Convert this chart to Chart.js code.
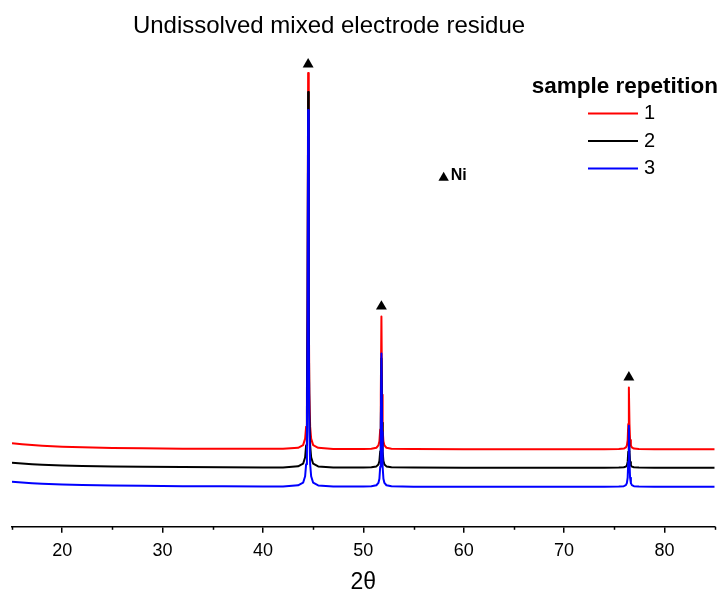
<!DOCTYPE html>
<html><head><meta charset="utf-8">
<script src="https://cdn.jsdelivr.net/npm/chart.js@4.4.0/dist/chart.umd.min.js"></script>
<style>html,body{margin:0;padding:0;background:#fff}canvas{display:block}</style>
</head><body>
<canvas id="c" width="721" height="597"></canvas>
<script>
// 2-theta positions (degrees)
const twoTheta = [
  15,16,17,18,20,22,25,28,32,36,40,42,
  43.5,44.0,44.2,44.3,44.38,44.44,44.5,44.56,44.62,44.7,44.8,45.0,45.5,
  47,50,
  50.8,51.3,51.5,51.6,51.68,51.74,51.8,51.86,51.92,52.0,52.1,52.3,52.8,
  55,60,65,70,74,
  75.45,75.95,76.15,76.25,76.33,76.39,76.45,76.51,76.57,76.65,76.75,76.95,77.45,
  79,82,85
];
// sample repetition 1 (red, offset intensity)
const rep1 = [
  83.5,82.5,81.7,81,80,79.3,78.7,78.3,78,77.9,77.8,77.8,
  78.9,81.5,88,100,133,231,453,231,133,100,88,81.5,78.8,
  77.7,77.7,
  77.9,78.9,81.2,85.4,97.2,131.9,210,131.9,97.2,85.4,81.2,78.9,77.9,
  77.6,77.5,77.5,77.5,77.5,
  77.7,78.1,79.2,81.1,86.6,102.7,139,102.7,86.6,81.1,79.2,78.1,77.7,
  77.4,77.4,77.4
];
// sample repetition 2 (black)
const rep2 = [
  64,63.2,62.5,62,61.2,60.7,60.2,59.9,59.6,59.4,59.3,59.3,
  60.4,63,69.4,81.4,114.4,212.4,434,212.4,114.4,81.4,69.4,63,60.3,
  59.2,59.2,
  59.5,60.3,62.2,65.6,75.3,103.8,168,103.8,75.3,65.6,62.2,60.3,59.4,
  59.1,59,59,59,59,
  59.1,59.4,60.1,61.3,64.8,75,98,75,64.8,61.3,60.1,59.4,59.1,
  59,59,59
];
// sample repetition 3 (blue)
const rep3 = [
  45,44.2,43.5,43,42.2,41.7,41.2,40.9,40.6,40.4,40.3,40.3,
  41.4,44,50.5,62.5,95.9,194.3,416,194.3,95.9,62.5,50.5,44,41.3,
  40.2,40.2,
  40.5,41.5,43.8,48,59.9,94.7,173,94.7,59.9,48,43.8,41.5,40.4,
  40.1,40,40,40,40,
  40.2,40.6,41.6,43.6,49,64.9,101,64.9,49,43.6,41.6,40.6,40.2,
  40,40,40
];
// Ni reflection markers
const niPeakPos = [44.5, 51.8, 76.45];
const niMarkY = [461.7, 220, 149.3];
const niKeyX = [58.0];
const niKeyY = [348.5];
const seriesLabels = ['1','2','3'];
const seriesColors = ['#ff0000','#000000','#0000ff'];
const majorTicks = [20,30,40,50,60,70,80];
const minorTicks = [15,25,35,45,55,65,75,85];
const chartTitle = 'Undissolved mixed electrode residue';
const legendTitle = 'sample repetition';

const FONT = 'Arial, "Liberation Sans", sans-serif';
const toPts = arr => twoTheta.map((x,i)=>({x:x, y:arr[i]}));
const series = [rep1, rep2, rep3];

const datasets = [];
datasets.push({
  type:'scatter', label:'Ni',
  data: niPeakPos.map((x,i)=>({x:x,y:niMarkY[i]})).concat(niKeyX.map((x,i)=>({x:x,y:niKeyY[i]}))),
  pointStyle:'triangle', pointRadius:[6.3,6.3,6.3,6], pointBackgroundColor:'#000', pointBorderWidth:0,
  borderWidth:0, clip:false, order:0
});
series.forEach((s,i)=>{
  datasets.push({
    type:'line', label:seriesLabels[i], data:toPts(s),
    borderColor:seriesColors[i], borderWidth:2, pointRadius:0, tension:0,
    borderJoinStyle:'round', fill:false, order:3-i+0.5
  });
});

const extras = {
  id:'extras',
  afterDraw(chart){
    const ctx = chart.ctx, xs = chart.scales.x, ys = chart.scales.y;
    ctx.save();
    // title
    ctx.fillStyle='#000'; ctx.font='24px '+FONT;
    ctx.textAlign='center'; ctx.textBaseline='middle';
    ctx.fillText(chartTitle, 329, 26);
    // minor ticks
    ctx.strokeStyle='#000'; ctx.lineWidth=1.5;
    const yb = chart.chartArea.bottom;
    minorTicks.forEach(v=>{
      const px = Math.round(xs.getPixelForValue(v))+0.5;
      ctx.beginPath(); ctx.moveTo(px,yb); ctx.lineTo(px,yb+3); ctx.stroke();
    });
    // Ni key label
    ctx.fillStyle='#000'; ctx.font='bold 16px '+FONT;
    ctx.textAlign='left'; ctx.textBaseline='middle';
    ctx.fillText('Ni', xs.getPixelForValue(niKeyX[0])+7, ys.getPixelForValue(niKeyY[0])-2);
    // legend
    ctx.font='bold 22.5px '+FONT; ctx.textAlign='right';
    ctx.fillText(legendTitle, 718, 87);
    ctx.font='20px '+FONT; ctx.textAlign='left';
    seriesLabels.forEach((lab,i)=>{
      const y = 113.5 + i*27.5;
      ctx.strokeStyle=seriesColors[i]; ctx.lineWidth=2;
      ctx.beginPath(); ctx.moveTo(588,y); ctx.lineTo(638,y); ctx.stroke();
      ctx.fillStyle='#000';
      ctx.fillText(lab, 644, y);
    });
    ctx.restore();
  }
};

new Chart(document.getElementById('c'), {
  data:{datasets:datasets},
  options:{
    responsive:false, animation:false, devicePixelRatio:1,
    layout:{padding:{left:12,right:2,top:50,bottom:0}},
    plugins:{
      legend:{display:false}, tooltip:{enabled:false}, title:{display:false}
    },
    scales:{
      x:{type:'linear', min:15, max:85,
        afterBuildTicks(s){ s.ticks = majorTicks.map(v=>({value:v})); },
        afterFit(s){ s.paddingLeft = 0; s.paddingRight = 0; },
        grid:{display:true, drawOnChartArea:false, drawTicks:true, tickLength:6, color:'#000', lineWidth:1.5},
        border:{display:true, color:'#000', width:1.5},
        ticks:{color:'#000', font:{family:FONT,size:18}, padding:7, maxRotation:0, autoSkip:false},
        title:{display:true, text:'2θ', color:'#000', font:{family:FONT,size:23}, padding:{top:0,bottom:1}}
      },
      y:{type:'linear', display:false, min:0, max:476}
    }
  },
  plugins:[extras]
});
</script>
</body></html>
